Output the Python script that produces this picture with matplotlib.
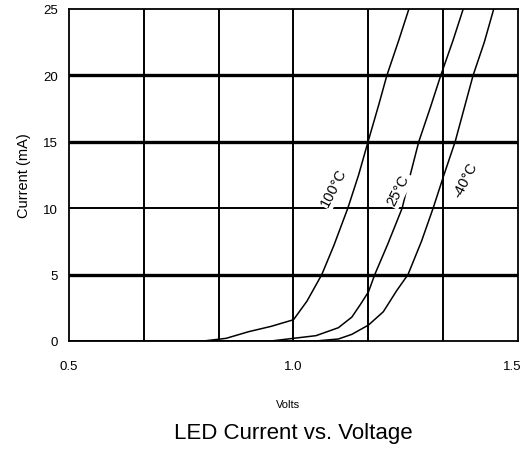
import numpy as np
import matplotlib
matplotlib.use("Agg")
import matplotlib.pyplot as plt
from matplotlib.transforms import ScaledTranslation

plt.rcParams['font.family'] = ['Liberation Sans', 'DejaVu Sans']

# LED forward current vs voltage
v_100 = [0.50, 0.80, 0.85, 0.90, 0.95, 1.00, 1.03, 1.063, 1.09, 1.121, 1.145, 1.166, 1.19, 1.208, 1.235, 1.257]
i_100 = [0.0, 0.0, 0.2, 0.7, 1.1, 1.6, 3.0, 5.0, 7.2, 10.0, 12.5, 15.0, 17.8, 20.0, 22.7, 25.0]

v_25 = [0.50, 0.95, 1.00, 1.05, 1.10, 1.13, 1.15, 1.167, 1.181, 1.21, 1.242, 1.26, 1.279, 1.305, 1.328, 1.355, 1.378]
i_25 = [0.0, 0.0, 0.2, 0.4, 1.0, 1.8, 2.8, 3.7, 5.0, 7.3, 10.0, 12.5, 15.0, 17.6, 20.0, 22.6, 25.0]

v_m40 = [0.50, 1.05, 1.10, 1.13, 1.167, 1.20, 1.215, 1.23, 1.255, 1.285, 1.311, 1.335, 1.36, 1.38, 1.40, 1.425, 1.446]
i_m40 = [0.0, 0.0, 0.15, 0.5, 1.2, 2.2, 3.0, 3.8, 5.0, 7.5, 10.0, 12.5, 15.0, 17.5, 20.0, 22.5, 25.0]

curve_labels = ['100°C', '25°C', '-40°C']
label_pos = [(1.090, 11.6), (1.233, 11.4), (1.382, 12.2)]

x_ticks = [0.5, 1.0, 1.5]
x_ticklabels = ['0.5', '1.0', '1.5']
y_ticks = [0, 5, 10, 15, 20, 25]
thick_rows = [5, 15, 20]
thin_rows = [10]

fig = plt.figure(figsize=(5.22, 4.52), dpi=100)
ax = fig.add_axes([0.1322, 0.2434, 0.8601, 0.7345])

# grid
for xv in np.linspace(0.5, 1.5, 7)[1:-1]:
    ax.axvline(xv, color='black', lw=1.4, zorder=1)
for yv in thick_rows:
    ax.axhline(yv, color='black', lw=2.4, zorder=1)
for yv in thin_rows:
    ax.axhline(yv, color='black', lw=1.4, zorder=1)

for v, i in [(v_100, i_100), (v_25, i_25), (v_m40, i_m40)]:
    ax.plot(v, i, color='black', lw=1.1, zorder=2)

for txt, (xv, yv) in zip(curve_labels, label_pos):
    ax.text(xv, yv, txt, rotation=63, ha='center', va='center', fontsize=10.5,
            zorder=3, bbox=dict(facecolor='white', edgecolor='none', pad=1.5))

ax.set_xlim(0.5, 1.5)
ax.set_ylim(0, 25)
ax.set_xticks(x_ticks)
ax.set_xticklabels(x_ticklabels)
ax.set_yticks(y_ticks)
ax.tick_params(length=0, labelsize=9.5)
ax.tick_params(axis='x', pad=14)
ax.tick_params(axis='y', pad=8)
for s in ax.spines.values():
    s.set_linewidth(1.3)

# keep the last x label inside the canvas
last = ax.get_xticklabels()[-1]
last.set_transform(last.get_transform() + ScaledTranslation(-6 / 100, 0, fig.dpi_scale_trans))

ax.set_ylabel('Current (mA)', fontsize=10.5, labelpad=9)
fig.text(0.551, 1 - 405 / 452, 'Volts', ha='center', va='center', fontsize=8)
fig.text(0.561, 1 - 434 / 452, 'LED Current vs. Voltage', ha='center', va='center',
         fontsize=16)

fig.savefig('out.png', dpi=100)
